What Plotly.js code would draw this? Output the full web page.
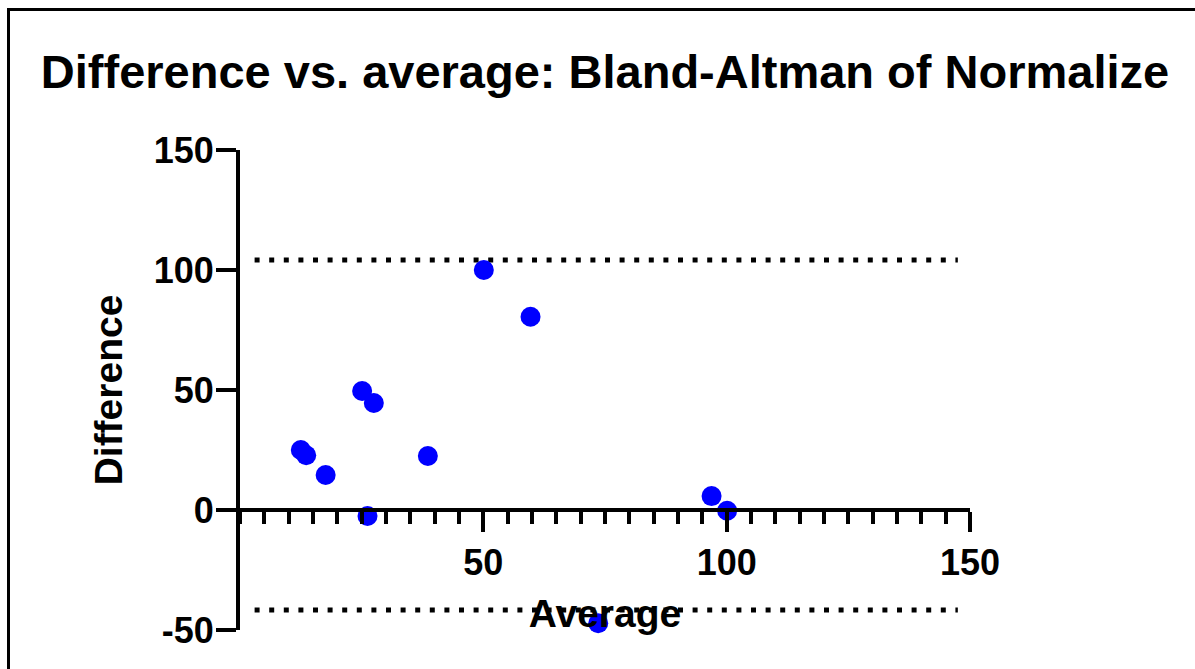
<!DOCTYPE html>
<html>
<head>
<meta charset="utf-8">
<script src="https://cdn.plot.ly/plotly-3.0.1.min.js"></script>
<style>
  html, body { margin: 0; padding: 0; background: #fff; overflow: hidden; }
  #chart { position: absolute; left: 0; top: 0; width: 1195px; height: 669px; }
  #frame { position: absolute; left: 7px; top: 8px; width: 1300px; height: 800px;
           border-left: 3px solid #000; border-top: 3px solid #000; pointer-events: none; }
</style>
</head>
<body>
<div id="chart"></div>
<div id="frame"></div>
<script>
// Data
const averages    = [12.5, 13.6, 17.6, 25.1, 27.5, 26.2, 38.6, 50.1, 59.7, 96.9, 100.1, 73.6];
const differences = [25.0, 22.8, 14.6, 49.6, 44.6, -2.5, 22.5, 100.0, 80.5, 5.8, -0.3, -47.2];
const upperLimit = 104.2;
const lowerLimit = -41.7;
const limitSpan = [3, 147.5];
const yTickVals = [-50, 0, 50, 100, 150];
const yTickText = ['-50', '0', '50', '100', '150'];
const xTickVals = [50, 100, 150];
const xTickText = ['50', '100', '150'];

const FONT = 'Liberation Sans, Arial, Helvetica, sans-serif';

const traces = [
  {
    x: limitSpan, y: [upperLimit, upperLimit], type: 'scatter', mode: 'lines',
    line: { color: '#000', width: 5, dash: '5px,9.6px' }, hoverinfo: 'skip', showlegend: false
  },
  {
    x: limitSpan, y: [lowerLimit, lowerLimit], type: 'scatter', mode: 'lines',
    line: { color: '#000', width: 5, dash: '5px,9.6px' }, hoverinfo: 'skip', showlegend: false
  },
  {
    x: averages, y: differences, type: 'scatter', mode: 'markers',
    marker: { color: '#0000FF', size: 20, line: { width: 0 } },
    cliponaxis: false, showlegend: false
  }
];

const layout = {
  width: 1195, height: 669,
  margin: { l: 240, r: 225, t: 150, b: 39, pad: 0 },
  paper_bgcolor: '#fff', plot_bgcolor: '#fff',
  showlegend: false,
  font: { family: FONT, color: '#000' },
  title: {
    text: 'Difference vs. average: Bland-Altman of Normalize',
    font: { family: FONT, size: 47, weight: 'bold', color: '#000' },
    xref: 'paper', x: 0.5, xanchor: 'center',
    yref: 'container', y: 1 - 72 / 669, yanchor: 'middle'
  },
  xaxis: {
    range: [0, 150], anchor: 'free', position: 0.25,
    tickmode: 'array', tickvals: xTickVals, ticktext: xTickText,
    ticks: 'outside', ticklen: 20, tickwidth: 4, tickcolor: '#000',
    minor: { dtick: 5, tick0: 0, ticks: 'outside', ticklen: 12, tickwidth: 4, tickcolor: '#000', showgrid: false },
    showline: true, linewidth: 4, linecolor: '#000',
    showgrid: false, zeroline: false, automargin: false,
    tickfont: { family: FONT, size: 36, weight: 'bold', color: '#000' },
    title: { text: 'Average', standoff: 16, font: { family: FONT, size: 39, weight: 'bold', color: '#000' } }
  },
  yaxis: {
    range: [-50, 150],
    tickmode: 'array', tickvals: yTickVals, ticktext: yTickText,
    ticks: 'outside', ticklen: 20, tickwidth: 4, tickcolor: '#000',
    ticklabelstandoff: -5,
    showline: true, linewidth: 4, linecolor: '#000',
    showgrid: false, zeroline: false, automargin: false,
    tickfont: { family: FONT, size: 36, weight: 'bold', color: '#000' },
    title: { text: 'Difference', standoff: 20, font: { family: FONT, size: 39, weight: 'bold', color: '#000' } }
  }
};

Plotly.newPlot('chart', traces, layout, { staticPlot: true, displayModeBar: false });
</script>
</body>
</html>
